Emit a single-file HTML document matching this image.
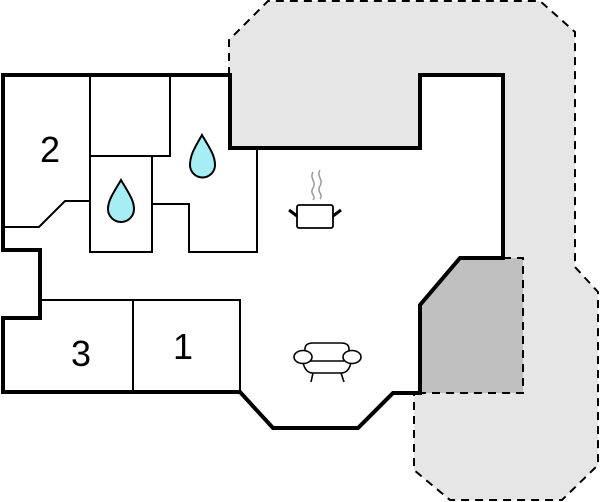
<!DOCTYPE html>
<html><head><style>html,body{margin:0;padding:0;background:#fff;}svg{display:block;}</style></head>
<body>
<svg width="600" height="502" viewBox="0 0 600 502" xmlns="http://www.w3.org/2000/svg">
<!-- terrace -->
<path d="M229,40 L268,1 L540,1 L575,32 L575,267 L598,292 L598,465 L562,500 L450,500 L414,470 L414,393 L420,393 L420,305 L460,258 L503,258 L503,75 L420,75 L420,148 L230,148 L230,75 L229,75 Z" fill="#e6e6e6"/>
<path d="M229,75 L229,40 L268,1 L540,1 L575,32 L575,267 L598,292 L598,465 L562,500 L450,500 L414,470 L414,393" fill="none" stroke="#000" stroke-width="2" stroke-dasharray="8,6"/>
<!-- dark area -->
<path d="M420,305 L460,258 L523,258 L523,393 L420,393 Z" fill="#c0c0c0"/>
<path d="M503,258 L523,258 L523,393 L420,393" fill="none" stroke="#000" stroke-width="2" stroke-dasharray="8,6"/>
<!-- thin interior lines -->
<g fill="none" stroke="#000" stroke-width="2">
<path d="M3,227 L39,227 L65,201 L90,201"/>
<path d="M90,75 L90,252 L152,252 L152,156"/>
<path d="M90,156 L170,156 L170,75"/>
<path d="M152,204 L189,204 L189,252 L257,252 L257,148"/>
<path d="M40,300 L240,300 L240,392"/>
<path d="M133,300 L133,392"/>
</g>
<!-- house outline -->
<path d="M3,75 L230,75 L230,148 L420,148 L420,75 L503,75 L503,258 L460,258 L420,305 L420,393 L393,393 L358,428 L273,428 L240,392 L3,392 L3,318 L40,318 L40,250 L3,250 Z" fill="none" stroke="#000" stroke-width="4" stroke-linejoin="miter"/>
<!-- drops -->
<path d="M121,180 C114,192 108,200 108,209 A13,13 0 0 0 134,209 C134,200 128,192 121,180 Z" fill="#a6eef4" stroke="#000" stroke-width="2"/>
<path d="M202,135 C195,147 190,155 190,165 A12.5,12.5 0 0 0 215,165 C215,155 209,147 202,135 Z" fill="#a6eef4" stroke="#000" stroke-width="2"/>
<!-- labels -->
<g font-family="Liberation Sans, sans-serif" font-size="36" fill="#000" text-anchor="middle">
<text x="50" y="162">2</text>
<text x="81" y="366">3</text>
<text x="183" y="359">1</text>
</g>
<!-- pot -->
<path d="M313,172 C309,178 317,182 313,188 C309,194 317,196 313,200 M320,170 C316,176 324,180 320,186 C316,192 324,194 320,199" fill="none" stroke="#999" stroke-width="1.5"/>
<rect x="297" y="205" width="36" height="23" rx="2" fill="#fff" stroke="#000" stroke-width="1.8"/>
<path d="M289,210 L297,216 M341,210 L333,216" stroke="#000" stroke-width="3"/>
<!-- sofa -->
<g fill="none" stroke="#000" stroke-width="1.6">
<path d="M305,355 L305,349 Q305,343 313,343 L341,343 Q349,343 349,349 L349,355"/>
<path d="M303,362 Q305,373 313,373 L341,373 Q349,373 351,362"/>
<line x1="310" y1="361" x2="344" y2="361"/>
<ellipse cx="303" cy="357" rx="9" ry="6.5" fill="#fff"/>
<ellipse cx="352" cy="357" rx="9" ry="6.5" fill="#fff"/>
<path d="M313,373 L311,382 M341,373 L344,382"/>
</g>
</svg>
</body></html>
